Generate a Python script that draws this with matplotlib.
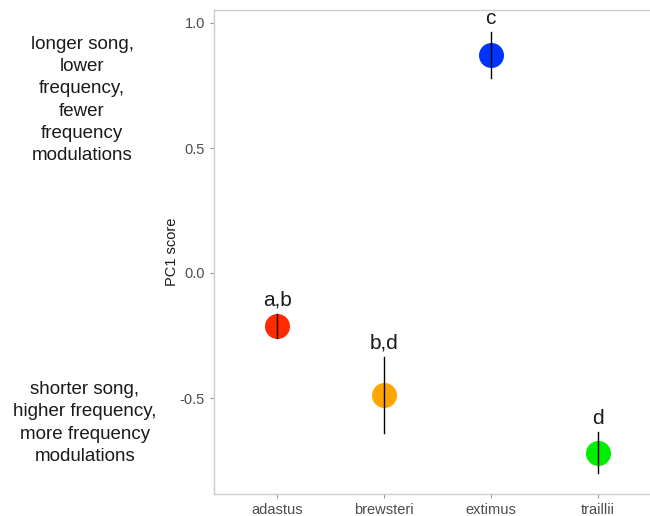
import matplotlib.pyplot as plt

plt.rcParams['font.family'] = ['Liberation Sans', 'DejaVu Sans']

species = ["adastus", "brewsteri", "extimus", "traillii"]
pc1_mean = [-0.212, -0.488, 0.872, -0.72]
pc1_low = [-0.258, -0.64, 0.78, -0.80]
pc1_high = [-0.162, -0.336, 0.962, -0.636]
letters = ["a,b", "b,d", "c", "d"]
colors = ["#ff2a00", "#ffa500", "#0033ff", "#00ee00"]

fig = plt.figure(figsize=(6.5, 5.16), dpi=100)
ax = fig.add_axes([214 / 650, 1 - 494 / 516, 1 - 214 / 650, 484 / 516])

x = list(range(1, len(species) + 1))
for xi, m, lo, hi, col, lab in zip(x, pc1_mean, pc1_low, pc1_high, colors, letters):
    ax.plot(xi, m, "o", color=col, markersize=17, zorder=2)
    ax.plot([xi, xi], [lo, hi], color="black", lw=1.0, zorder=3)
    ax.annotate(lab, (xi, hi), xytext=(0, 3), textcoords="offset points",
                ha="center", va="bottom", fontsize=15, color="#1a1a1a")

ax.set_xlim(0.41, 4.49)
ax.set_ylim(-0.884, 1.052)
ax.set_xticks(x)
ax.set_xticklabels(species)
ax.set_yticks([-0.5, 0.0, 0.5, 1.0])
ax.set_yticklabels(["-0.5", "0.0", "0.5", "1.0"])
ax.tick_params(colors="#999999", labelcolor="#4d4d4d", labelsize=10.5, length=3, width=0.8)
ax.set_ylabel("PC1 score", fontsize=10.5, color="#1a1a1a")
ax.yaxis.set_label_coords(-0.08, 0.5)

for s in ["left", "top", "bottom"]:
    ax.spines[s].set_color("#cccccc")
    ax.spines[s].set_linewidth(1.0)
ax.spines["right"].set_visible(False)

fig.text(82 / 650, 1 - 100 / 516,
         "longer song,\nlower\nfrequency,\nfewer\nfrequency\nmodulations",
         ha="center", va="center", fontsize=13.5, linespacing=1.4, color="#1a1a1a")
fig.text(85 / 650, 1 - 423 / 516,
         "shorter song,\nhigher frequency,\nmore frequency\nmodulations",
         ha="center", va="center", fontsize=13.5, linespacing=1.4, color="#1a1a1a")

fig.savefig("out.png", dpi=100)
